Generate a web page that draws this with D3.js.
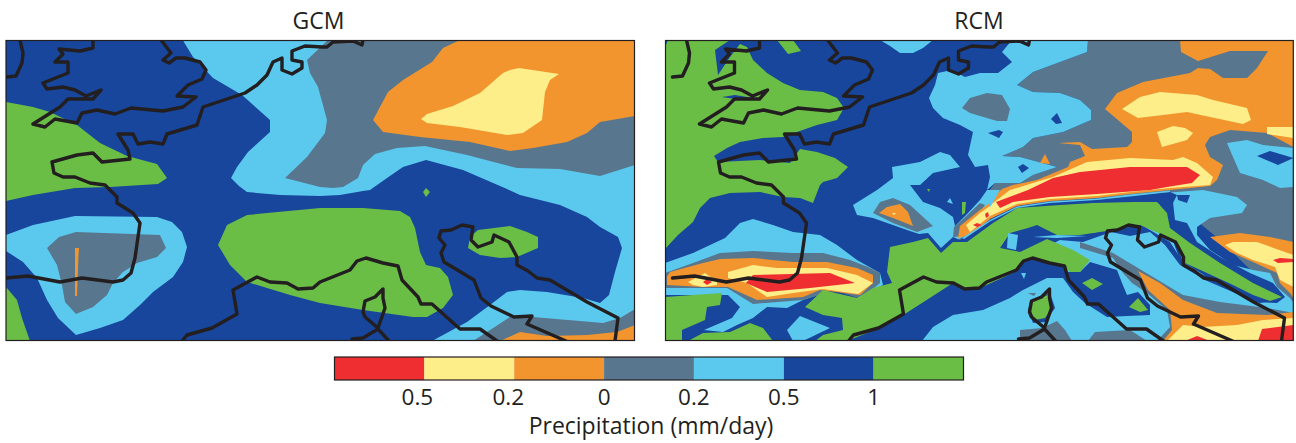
<!DOCTYPE html>
<html><head><meta charset="utf-8">
<script src="https://cdnjs.cloudflare.com/ajax/libs/d3/7.8.5/d3.min.js"></script>
<style>html,body{margin:0;background:#fff}svg{display:block}text{font-family:"Open Sans","Noto Sans",sans-serif;fill:#231f20}</style>
</head><body><svg id="c" width="1296" height="443"></svg>
<script>
// Legend
const bandNames = ["red","yellow","orange","slate","sky","navy","green"];
const bandColors = ["#ee2e31","#fdee8a","#f2952e","#58768d","#5bc9ee","#17469c","#6abd45"];
const tickLabels = ["0.5","0.2","0","0.2","0.5","1"];
const tickNudge = [-7,-6,0,0,0,0];
const panelTitles = ["GCM","RCM"];

// GCM isoband outlines, in map grid units, painted in order over a navy field
const gcmBands = [
["sky",[[183,40.5],[193,57],[213,78],[242,95],[270,120],[270,132],[248,152],[237,167],[231,178],[239,186],[247,192],[280,195],[320,196],[340,195],[363,191],[370,190],[387,178],[403,167],[426,160],[463,170],[507,189],[520,195],[560,205],[587,217],[600,227],[618,237],[622,248],[615,272],[609,295],[600,303],[583,298],[547,292],[520,290],[507,292],[490,305],[467,322],[432,341],[635,341],[635,40],[183,40]]],
["slate",[[328,40],[307,60],[310,73],[318,87],[327,120],[325,133],[307,157],[285,178],[320,187],[333,188],[343,187],[358,178],[363,165],[375,154],[397,148],[425,146],[467,155],[517,168],[560,169],[600,176],[635,165],[635,40]]],
["orange",[[460,40],[443,48],[432,62],[403,80],[388,92],[373,120],[383,132],[420,137],[470,142],[510,151],[533,148],[567,142],[587,133],[600,122],[635,116],[635,40]]],
["yellow",[[519,68],[559,74],[550,80],[545,92],[542,120],[523,133],[507,135],[460,127],[427,123],[421,119],[427,114],[453,106],[480,93],[503,73],[510,70]]],
["green",[[6,102],[33,107],[50,112],[77,125],[100,143],[127,156],[157,164],[167,178],[158,184],[110,187],[75,188],[33,195],[6,201]]],
["green",[[6,287],[17,300],[22,318],[30,341],[6,341]]],
["sky",[[6,235],[33,225],[75,216],[157,217],[172,222],[182,232],[187,247],[183,262],[173,277],[153,292],[140,305],[123,320],[100,328],[76,335],[58,318],[47,300],[37,278],[23,262],[6,251]]],
["slate",[[76,232],[160,235],[166,248],[157,257],[137,263],[123,272],[113,283],[107,295],[93,307],[76,314],[65,302],[62,285],[57,265],[47,248],[59,237]]],
["orange",[[75,248],[79,248],[78.5,255],[77,296],[75,296]]],
["green",[[218,245],[227,225],[247,215],[320,208],[363,208],[400,211],[410,217],[415,228],[420,252],[426,265],[440,268],[448,277],[453,295],[443,308],[427,317],[413,317],[363,310],[320,303],[290,295],[247,282],[230,265]]],
["green",[[478,230],[510,226],[527,232],[538,237],[538,248],[517,257],[500,258],[480,255],[468,248],[470,237]]],
["green",[[426,188],[430,192],[426,197],[423,192]]],
["slate",[[473,341],[487,332],[510,317],[533,317],[603,323],[620,318],[635,309],[635,341]]],
["orange",[[500,341],[520,332],[547,336],[587,335],[617,332],[635,325],[635,341]]]
];

// RCM isoband outlines, same convention
const rcmBands = [
["slate",[[428,40],[633.5,40],[633.5,312],[560,240],[503,193],[342,205],[300,240],[293,237],[320,203],[335,183],[360,183],[373,175],[397,167],[360,157],[342,156],[363,147],[373,138],[403,132],[431,120],[431,110],[420,100],[400,93],[373,92],[357,85],[373,72],[400,62],[427,52]]],
["green",[[8,40],[70,40],[55,50],[58,75],[70,57],[80,44],[87,47],[93,60],[107,73],[123,83],[140,90],[163,92],[177,98],[184,108],[177,120],[157,125],[137,132],[123,137],[103,138],[80,142],[67,148],[54,156],[58,162],[100,160],[130,163],[140,149],[157,152],[175,158],[188,167],[177,178],[163,182],[160,185],[153,203],[140,198],[123,197],[100,192],[70,193],[50,198],[40,208],[33,222],[18,235],[5,249],[5,47]]],
["green",[[117,40],[133,40],[141,51],[128,54]]],
["navy",[[62,97],[75,95],[93,98],[75,99]]],
["sky",[[220,40],[273,40],[263,48],[253,53],[240,53],[230,46]]],
["sky",[[287,71],[297,73],[305,77],[320,73],[338,73],[352,62],[342,52],[352,40],[428,40],[427,52],[400,62],[373,72],[357,85],[373,92],[400,93],[420,100],[431,110],[431,120],[403,132],[373,138],[363,147],[342,156],[360,157],[397,167],[373,175],[360,183],[335,183],[327,190],[330,177],[328,165],[315,167],[308,155],[313,132],[300,125],[283,118],[273,108],[269,98],[275,85],[278,73]]],
["slate",[[302,108],[310,98],[327,93],[342,95],[350,109],[347,121],[337,121],[320,116],[310,113]]],
["navy",[[397,113],[402,123],[396,124],[391,119]]],
["navy",[[328,133],[339,130],[343,132],[339,138]]],
["navy",[[358,167],[363,164],[369,168],[362,173]]],
["orange",[[380,163],[385,154],[390,164]]],
// southern and eastern sky field
["sky",[[503,193],[543,190],[577,197],[587,205],[582,213],[550,218],[537,227],[537,235],[550,250],[573,265],[593,270],[610,273],[617,287],[630,298],[633.5,303],[633.5,341],[260,341],[267,328],[300,290],[400,240]]],
["navy",[[517,195],[530,195],[527,203],[518,200]]],
["slate",[[420,242],[453,253],[493,277],[523,295],[560,302],[607,308],[633.5,313],[633.5,341],[497,341],[510,327],[507,310],[487,293],[472,283],[463,273],[453,258],[420,248]]],
["slate",[[360,330],[382,328],[397,321],[405,330],[412,341],[360,341]]],
["slate",[[428,341],[435,332],[470,330],[487,341]]],
["slate",[[368,293],[376,293],[374,296]]],
// ridge and the Adriatic east
["orange",[[298,238],[300,226],[320,210],[342,189],[353,185],[377,180],[408,167],[410,162],[425,156],[420,145],[398,143],[420,142],[432,149],[467,147],[472,142],[472,132],[445,109],[457,93],[483,82],[530,73],[538,68],[550,69],[563,78],[587,78],[597,68],[608,51],[570,51],[538,61],[521,52],[520,40],[633.5,40],[633.5,147],[607,133],[570,130],[550,137],[545,145],[550,157],[563,165],[557,180],[550,186],[510,190],[470,194],[437,198],[390,201],[357,206],[330,219],[310,235]]],
["yellow",[[306,225],[320,213],[350,190],[373,183],[393,177],[427,162],[470,158],[513,160],[523,157],[537,163],[553,177],[550,185],[510,188],[470,192],[437,196],[390,199],[357,204],[330,216],[310,232]]],
["red",[[336,202],[368,190],[393,178],[420,172],[470,167],[527,167],[540,175],[532,183],[507,187],[490,190],[437,194],[390,197],[353,202],[340,208]]],
["yellow",[[462,109],[480,97],[500,92],[537,95],[553,100],[587,108],[591,120],[583,124],[550,117],[527,112],[503,115],[478,118]]],
["yellow",[[497,132],[513,126],[525,128],[533,133],[527,140],[502,147]]],
["yellow",[[607,127],[633.5,127],[633.5,138],[607,134]]],
["sky",[[567,143],[587,140],[603,145],[633.5,148],[633.5,187],[620,188],[603,180],[580,173],[573,157]]],
["navy",[[597,156],[610,151],[633.5,158],[618,165]]],
["orange",[[550,237],[580,233],[610,237],[633.5,242],[633.5,298],[630,293],[620,283],[617,273],[593,262],[570,252]]],
["yellow",[[565,245],[573,242],[597,242],[633.5,255],[633.5,287],[620,280],[615,267],[593,260],[577,253]]],
["red",[[613,260],[620,258],[633.5,259],[633.5,262],[618,263]]],
["orange",[[478,271],[488,290],[510,310],[512,330],[503,341],[633.5,341],[633.5,312],[607,315],[557,313],[523,300],[500,283]]],
["yellow",[[507,341],[523,325],[543,327],[577,325],[603,320],[633.5,318],[633.5,341]]],
["red",[[598,341],[602,329],[633.5,325],[633.5,341]]],
["red",[[525,341],[537,336],[550,341]]],
// western south
["sky",[[5,263],[33,253],[65,238],[80,223],[93,219],[113,225],[133,232],[160,235],[177,245],[197,260],[220,273],[223,285],[200,297],[173,290],[143,300],[127,308],[107,307],[93,318],[77,325],[63,332],[44,330],[72,318],[80,307],[68,295],[5,295]]],
["sky",[[140,316],[170,328],[143,341],[133,341],[127,330]]],
["slate",[[5,273],[33,263],[60,253],[93,251],[133,253],[163,253],[190,260],[208,267],[220,273],[220,283],[208,293],[198,298],[173,290],[143,300],[93,304],[67,288],[47,288],[5,288]]],
["orange",[[7,277],[10,272],[43,263],[60,259],[93,258],[133,262],[167,262],[197,268],[213,275],[213,283],[200,295],[160,290],[143,297],[97,300],[68,287],[43,287],[7,285]]],
["yellow",[[68,272],[93,265],[117,268],[167,268],[197,275],[213,283],[198,294],[163,289],[133,293],[107,297],[87,283],[68,278]]],
["red",[[93,275],[170,273],[195,283],[150,288],[107,292],[86,283]]],
["yellow",[[28,282],[45,273],[57,282],[57,285],[43,287],[33,285]]],
["red",[[43,282],[47,279],[52,282],[47,285]]],
["green",[[5,297],[33,295],[62,293],[60,305],[47,307],[45,320],[22,330],[22,341],[5,341]]],
["green",[[28,341],[43,333],[70,332],[90,323],[103,328],[113,341]]],
// central Massif blob
["sky",[[193,205],[217,190],[233,178],[232,167],[260,162],[280,152],[290,155],[300,167],[273,173],[260,185],[250,185],[263,202],[280,208],[293,217],[295,226],[293,237],[287,247],[281,254],[273,243],[268,237],[247,230],[213,218],[197,215]]],
["sky",[[295,226],[308,213],[320,200],[327,190],[340,190],[320,225],[298,240],[290,245]]],
["slate",[[213,213],[220,202],[233,198],[250,205],[273,226],[257,232],[233,223]]],
["orange",[[219,213],[227,207],[240,204],[248,212],[253,226],[233,218]]],
["yellow",[[232,213],[236,213],[234,215]]],
["slate",[[293,237],[294,227],[302,220],[320,203],[325,205],[304,236]]],
["orange",[[298,238],[300,226],[320,210],[330,203],[330,219],[310,235]]],
["yellow",[[306,225],[320,213],[330,206],[330,216],[310,232]]],
["red",[[313,225],[317,223],[322,225],[317,227]]],
["red",[[325,214],[328,212],[329,216],[326,218]]],
["sky",[[290,198],[293,204],[287,202]]],
["green",[[302,202],[306,202],[305,213],[302,215]]],
["green",[[267,189],[270,189],[269,192]]],
// Po valley and Apennine blues
["navy",[[187,341],[197,337],[220,328],[247,315],[267,298],[290,285],[307,290],[330,280],[352,270],[367,260],[382,259],[405,267],[408,272],[420,272],[430,262],[457,270],[462,283],[467,295],[478,292],[490,305],[490,315],[467,316],[447,317],[425,303],[413,292],[403,278],[387,278],[363,290],[350,298],[323,310],[293,315],[273,327],[262,341]]],
["navy",[[340,248],[350,233],[373,225],[387,225],[397,233],[433,233],[453,227],[480,224],[510,242],[523,262],[537,272],[560,282],[587,292],[603,300],[617,300],[625,298],[600,303],[575,293],[545,280],[520,265],[505,245],[490,232],[470,236],[451,232],[440,236],[423,242],[400,240],[387,240],[360,253]]],
["navy",[[497,198],[513,202],[515,220],[527,223],[537,242],[560,257],[590,273],[613,283],[625,297],[617,303],[593,302],[560,285],[520,260]]],
["navy",[[293,242],[302,240],[330,221],[357,208],[390,203],[437,200],[470,196],[510,192],[517,195],[513,203],[497,204],[433,205],[387,207],[360,215],[327,234],[310,249]]],
["sky",[[302,238],[330,220],[357,206.5],[390,201.5],[437,198.5],[470,194.5],[510,190.5],[510,192],[470,196.5],[437,200],[390,203],[357,208],[330,221.5],[304,239]]],
["navy",[[230,245],[250,235],[268,233],[281,248],[293,237],[300,240],[293,245],[281,256],[268,240],[253,243],[230,249]]],
["green",[[230,247],[253,242],[268,238],[281,253],[293,242],[307,242],[333,223],[357,208],[400,205],[433,203],[473,202],[497,202],[507,213],[510,228],[530,243],[560,263],[593,283],[622,297],[610,301],[593,295],[573,285],[523,262],[517,245],[503,235],[480,225],[453,230],[420,235],[397,235],[377,225],[368,228],[350,233],[340,248],[360,252],[387,239],[413,250],[430,260],[420,272],[410,272],[405,267],[377,259],[363,260],[353,273],[320,288],[310,289],[293,283],[262,303],[240,317],[220,328],[197,337],[187,341],[155,341],[163,335],[183,330],[182,318],[163,315],[145,307],[163,290],[197,298],[213,288],[232,283],[227,272]]],
["sky",[[348,233],[358,235],[356,250],[347,248]]],
["sky",[[373,237],[397,235],[427,236],[397,238]]],
["sky",[[361,273],[366,273],[364,279]]],
["green",[[422,283],[432,278],[443,284],[432,290]]],
["green",[[469,307],[478,298],[488,310],[480,312]]],
["navy",[[370,302],[390,293],[395,308],[385,322],[373,323],[368,310]]],
["green",[[373,300],[388,295],[392,308],[385,318],[375,320],[370,310]]]
];

// Coastlines, map grid units
const coastlines = [
[[20,40],[23,53],[22,63],[16,76],[6,77]],
[[93,40],[93,48],[80,51],[59,49],[63,54],[55,62],[68,62],[68,73],[43,83],[47,89],[63,87],[75,90],[86,96],[101,90],[93,99],[68,99],[60,107],[33,124],[45,127],[55,119],[77,123],[82,113],[97,110],[115,114],[131,108],[163,111],[183,107],[196,97],[177,96],[188,85],[202,79],[206,70],[200,62],[185,58],[176,58],[169,63],[163,60],[171,53],[161,40]],
[[363,40],[362,45],[353,41],[333,42],[327,47],[322,47],[305,46],[292,51],[292,60],[302,62],[302,68],[292,74],[282,70],[282,58],[273,62],[267,75],[257,85],[245,93],[203,107],[197,125],[167,134],[163,144],[150,142],[138,144],[133,134],[118,134],[128,150],[130,159],[102,162],[93,153],[77,155],[52,162],[54,173],[63,177],[75,177],[90,183],[105,185],[117,197],[117,203],[133,213],[140,223],[135,258],[131,273],[123,280],[113,282],[82,278],[60,282],[28,276],[6,278]],
[[182,341],[187,335],[212,328],[237,314],[233,290],[257,277],[270,282],[287,283],[298,289],[313,288],[320,282],[350,270],[357,261],[366,258],[383,263],[398,266],[402,280],[418,297],[421,304],[432,304],[460,329],[480,329],[497,341]],
[[383,289],[375,297],[365,301],[363,312],[365,317],[378,328],[385,308],[383,298],[383,289]],
[[352,339],[363,338],[378,329],[389,341]],
[[615,341],[618,318],[587,302],[550,280],[537,278],[528,271],[517,265],[517,257],[509,242],[494,235],[492,242],[478,247],[471,240],[473,227],[462,225],[451,230],[441,231],[439,238],[445,245],[441,253],[444,262],[474,280],[481,298],[491,306],[514,317],[532,316],[527,324],[566,341]]
];

const svg = d3.select("#c");
const colorOf = d3.scaleOrdinal(bandNames, bandColors);
const panels = [
 {title:panelTitles[0], bands:gcmBands, dom:[6,634.5], rng:[6,634.5], coastShift:0, cx:318.5},
 {title:panelTitles[1], bands:rcmBands, dom:[5.5,633.3], rng:[665.5,1293.3], coastShift:6.5, cx:979}
];
const yMap = d3.scaleLinear().domain([40.5,340.5]).range([40.5,340.5]);
panels.forEach((p,i)=>{
  const xMap = d3.scaleLinear().domain(p.dom).range(p.rng);
  const g = svg.append("g");
  const clipId = "clip"+i;
  svg.append("clipPath").attr("id",clipId).append("rect")
    .attr("x",p.rng[0]).attr("y",40.5).attr("width",p.rng[1]-p.rng[0]).attr("height",300);
  const body = g.append("g").attr("clip-path",`url(#${clipId})`);
  body.append("rect").attr("x",p.rng[0]).attr("y",40.5).attr("width",p.rng[1]-p.rng[0]).attr("height",300).attr("fill",colorOf("navy"));
  const area = d3.line().x(d=>xMap(d[0])).y(d=>yMap(d[1]));
  body.selectAll("path.band").data(p.bands).join("path").attr("class","band")
    .attr("d",d=>area(d[1])+"Z").attr("fill",d=>colorOf(d[0]));
  const coast = d3.line().x(d=>xMap(d[0]+p.coastShift)).y(d=>yMap(d[1])).curve(d3.curveLinear);
  body.selectAll("path.coast").data(coastlines).join("path").attr("class","coast")
    .attr("d",coast).attr("fill","none").attr("stroke","#231f20").attr("stroke-width",3.4)
    .attr("stroke-linejoin","round").attr("stroke-linecap","round");
  g.append("rect").attr("x",p.rng[0]).attr("y",40.5).attr("width",p.rng[1]-p.rng[0]).attr("height",300)
    .attr("fill","none").attr("stroke","#231f20").attr("stroke-width",1.2);
  g.append("text").attr("x",p.cx).attr("y",29).attr("text-anchor","middle").attr("font-size",23).text(p.title);
});

// colour bar
const xBar = d3.scaleLinear().domain([0,bandNames.length]).range([334.5,963.5]);
const bar = svg.append("g");
bar.selectAll("rect.sw").data(bandColors).join("rect").attr("class","sw")
  .attr("x",(d,i)=>xBar(i)).attr("y",357).attr("width",(d,i)=>xBar(i+1)-xBar(i)).attr("height",23).attr("fill",d=>d);
bar.append("rect").attr("x",334.5).attr("y",357).attr("width",629).attr("height",23).attr("fill","none").attr("stroke","#231f20").attr("stroke-width",1.2);
bar.selectAll("text.tl").data(tickLabels).join("text").attr("class","tl")
  .attr("x",(d,i)=>xBar(i+1)+tickNudge[i]).attr("y",405).attr("text-anchor","middle").attr("font-size",22.5).text(d=>d);
svg.append("text").attr("x",651).attr("y",434).attr("text-anchor","middle").attr("font-size",23).text("Precipitation (mm/day)");
</script></body></html>
